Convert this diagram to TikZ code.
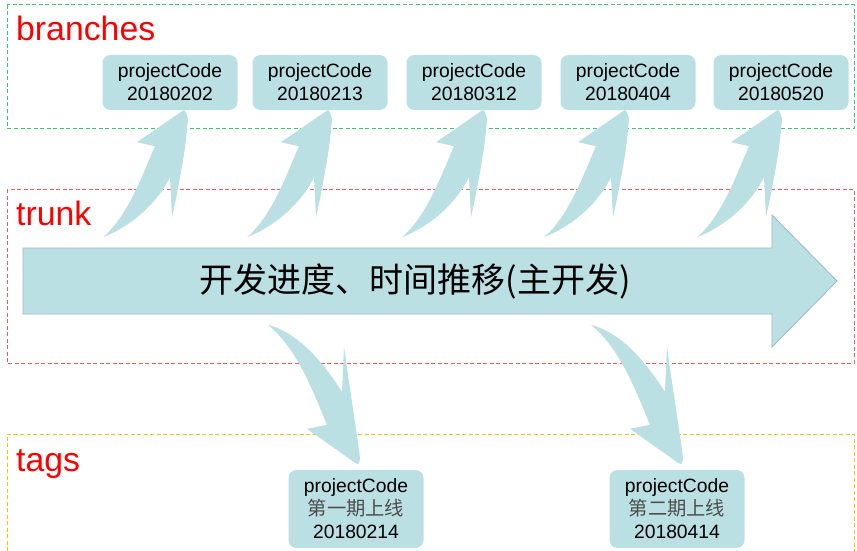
\documentclass[tikz,border=0pt]{standalone}
\usepackage{fontspec}
\setmainfont{Liberation Sans}
\newfontfamily\cjk{Noto Sans CJK SC}
\definecolor{boxblue}{HTML}{BBE0E3}
\definecolor{arrowline}{HTML}{9DB9BB}
\definecolor{branchgreen}{HTML}{33CC66}
\definecolor{trunkred}{HTML}{FF5555}
\definecolor{tagyellow}{HTML}{FFC000}
\tikzset{
  areabox/.style={line width=1pt, dash pattern=on 4pt off 2.5pt},
  arealabel/.style={red, font=\fontsize{33.8}{36}\selectfont, anchor=base west, inner sep=0pt},
  codebox/.style={fill=boxblue, rounded corners=8pt, minimum width=135, minimum height=55,
    align=center, inner sep=0pt, font=\fontsize{19.3}{23}\selectfont},
  tagbox/.style={codebox, minimum height=78},
  uparrow/.pic={
    \fill[boxblue] (-81,127) .. controls (-55,105) and (-40,60) .. (-29,36) -- (-47,32)
      -- (-2,1) .. controls (1,-1) .. (4,8) .. controls (2,40) and (-6,80) .. (-12,107)
      -- (-14,67) .. controls (-25,90) and (-50,115) .. cycle;
  },
  downarrow/.pic={
    \fill[boxblue] (-89,-139) .. controls (-55,-130) and (-30,-95) .. (-15,-72)
      -- (-13,-117) .. controls (-8,-80) and (0,-30) .. (3,-6) .. controls (2,1) .. (-2,-1)
      -- (-50,-35) -- (-30,-39) .. controls (-45,-75) and (-60,-115) .. cycle;
  }
}
\begin{document}
\begin{tikzpicture}[x=1pt, y=-1pt]
        \useasboundingbox (0,0) rectangle (857,551);
        % areas
        \draw[areabox, branchgreen] (7,5) rectangle (854,128);
        \draw[areabox, trunkred] (7,189) rectangle (854,363);
        \draw[areabox, tagyellow] (7,551) -- (7,434) -- (854,434) -- (854,551);
        \node[arealabel] (branches) at (16,41) {branches};
        \node[arealabel] (trunk) at (16,225) {trunk};
        \node[arealabel] (tags) at (16,471) {tags};

        \node[codebox] (b1) at (170,82.5) {projectCode\\20180202};
        \node[codebox] (b2) at (320,82.5) {projectCode\\20180213};
        \node[codebox] (b3) at (474,82.5) {projectCode\\20180312};
        \node[codebox] (b4) at (628,82.5) {projectCode\\20180404};
        \node[codebox] (b5) at (781,82.5) {projectCode\\20180520};
        \node[tagbox] (t1) at (356,509) {projectCode\\{\cjk\color{black!70}第一期上线}\\20180214};
        \node[tagbox] (t2) at (677,509) {projectCode\\{\cjk\color{black!70}第二期上线}\\20180414};

        \pic at ([xshift=14pt]b1.south) {uparrow};
        \pic at ([xshift=8pt]b2.south) {uparrow};
        \pic at ([xshift=9pt]b3.south) {uparrow};
        \pic at ([xshift=-3pt]b4.south) {uparrow};
        \pic at ([xshift=-3pt]b5.south) {uparrow};
        \pic at ([xshift=1pt,yshift=6pt]t1.north) {downarrow};
        \pic at ([xshift=3pt,yshift=6pt]t2.north) {downarrow};

        % main line
        \draw[fill=boxblue, draw=arrowline, line width=0.8pt]
          (23,248) -- (772,248) -- (772,215) -- (837,281) -- (772,347) -- (772,314) -- (23,314) -- cycle;
        \node[font=\cjk\fontsize{34}{38}\selectfont] (dev) at (415,281) {开发进度、时间推移(主开发)};
    \end{tikzpicture}
\end{document}
